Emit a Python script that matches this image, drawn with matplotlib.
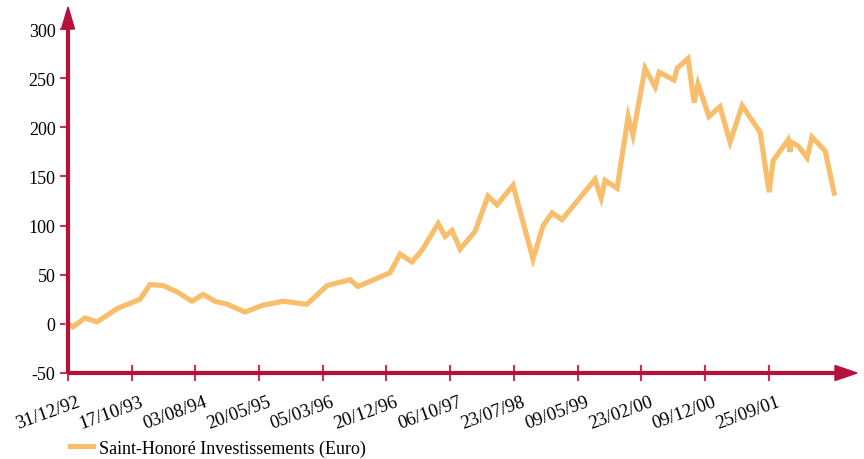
import matplotlib.pyplot as plt
import matplotlib.transforms as mtransforms
from matplotlib.patches import Polygon

# days since 31/12/92 and fund value (Euro)
DAYS = [0, 23, 77, 132, 228, 328, 373, 433, 501, 564, 615, 669, 724, 806, 888,
        979, 1088, 1180, 1284, 1320, 1466, 1512, 1566, 1612, 1685, 1717, 1748,
        1785, 1853, 1912, 1953, 2026, 2117, 2163, 2204, 2249, 2399, 2427, 2445,
        2500, 2550, 2572, 2627, 2673, 2691, 2759, 2773, 2823, 2850, 2868, 2918,
        2968, 3014, 3069, 3151, 3192, 3210, 3278, 3287, 3292, 3324, 3365, 3387,
        3447, 3488]
VALUES = [0, -3, 6, 2, 16, 25, 40, 39, 32, 23, 30, 23, 20, 12, 19,
          23, 20, 39, 45, 38, 52, 71, 63, 75, 102, 89, 95,
          76, 94, 130, 121, 141, 66, 100, 113, 106, 147, 128, 146,
          138, 211, 192, 260, 241, 256, 248, 260, 270, 225, 244, 211,
          221, 185, 222, 195, 134, 166, 187, 175, 185, 181, 169, 190,
          176, 133]

TICK_DAYS = [0, 290, 580, 870, 1160, 1450, 1740, 2030, 2320, 2610, 2900, 3190]
TICK_LABELS = ["31/12/92", "17/10/93", "03/08/94", "20/05/95", "05/03/96",
               "20/12/96", "06/10/97", "23/07/98", "09/05/99", "23/02/00",
               "09/12/00", "25/09/01"]
Y_TICKS = [-50, 0, 50, 100, 150, 200, 250, 300]
SERIES_NAME = "Saint-Honoré Investissements (Euro)"

RED = "#b5113a"
TICK_RED = "#c53359"
ORANGE = "#f9be6b"

plt.rcParams["font.family"] = ["Liberation Serif", "DejaVu Serif"]

fig = plt.figure(figsize=(8.64, 4.6), dpi=100)
ax = fig.add_axes([68 / 864, 1 - 374 / 460, 789 / 864, 344 / 460])

ax.plot(DAYS, VALUES, color=ORANGE, lw=3.7, solid_joinstyle="miter",
        label=SERIES_NAME, clip_on=False, zorder=3)

ax.set_xlim(0, 3592)
ax.set_ylim(-50, 300)
for s in ax.spines.values():
    s.set_visible(False)

# axis lines with arrow heads
ax.plot([0, 1 - 22 / 789], [0, 0], transform=ax.transAxes, color=RED, lw=3,
        clip_on=False, solid_capstyle="butt", zorder=4)
ax.plot([0, 0], [0, 1], transform=ax.transAxes, color=RED, lw=3,
        clip_on=False, solid_capstyle="butt", zorder=4)
hx = 7.5 / 344
ax.add_patch(Polygon([(1 - 22 / 789, -hx), (1, 0), (1 - 22 / 789, hx)],
                     closed=True, transform=ax.transAxes, color=RED,
                     clip_on=False, zorder=4))
wy = 6.5 / 789
ax.add_patch(Polygon([(-wy, 1), (0, 1 + 22 / 344), (wy, 1)],
                     closed=True, transform=ax.transAxes, color=RED,
                     clip_on=False, zorder=4))

ax.set_yticks(Y_TICKS)
ax.set_yticklabels([str(v) for v in Y_TICKS])
ax.tick_params(axis="y", direction="out", length=6, width=1.5, color=TICK_RED,
               pad=3, labelsize=13)

ax.set_xticks(TICK_DAYS)
ax.set_xticklabels(TICK_LABELS, rotation=20, ha="right", va="top",
                   rotation_mode="anchor")
ax.tick_params(axis="x", direction="inout", length=11, width=1.5,
               color=TICK_RED, pad=9, labelsize=13.5)
offset = mtransforms.ScaledTranslation(8 / 100, 0, fig.dpi_scale_trans)
for lab in ax.get_xticklabels():
    lab.set_transform(lab.get_transform() + offset)

fig.legend(loc="center left", bbox_to_anchor=(70 / 864, 1 - 449 / 460),
           frameon=False, fontsize=13, handlelength=1.3, handletextpad=0.3,
           borderpad=0, borderaxespad=0)

fig.savefig("out.png", dpi=100)
